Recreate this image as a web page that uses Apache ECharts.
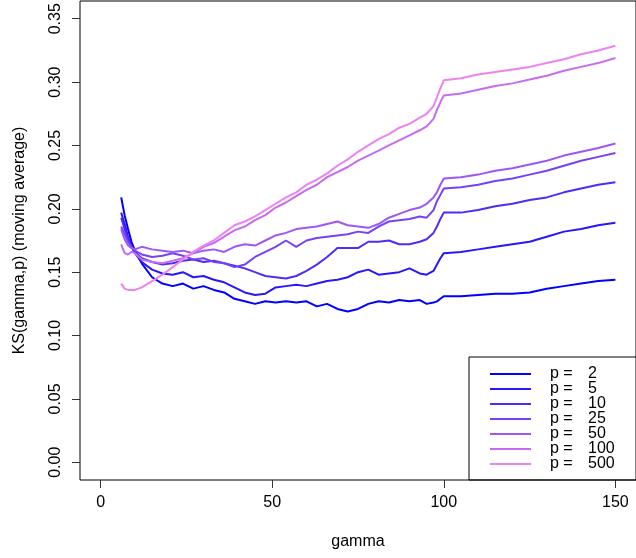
<!DOCTYPE html>
<html>
<head>
<meta charset="utf-8">
<script src="https://cdn.jsdelivr.net/npm/echarts@6/dist/echarts.min.js"></script>
<style>
  html, body { margin: 0; padding: 0; background: #fff; }
  #chart { width: 636px; height: 558px; }
</style>
</head>
<body>
<div id="chart"></div>
<script>
// gamma grid shared by every curve
var gamma = [6, 7, 8, 9, 10, 12, 15, 18, 21, 24, 27, 30, 33, 36, 39, 42, 45, 48, 51, 54,
  57, 60, 63, 66, 69, 72, 75, 78, 81, 84, 87, 90, 93, 95, 97, 98, 99, 100,
  105, 110, 115, 120, 125, 130, 135, 140, 145, 150];

var p2 = [0.209, 0.195, 0.184, 0.174, 0.167, 0.157, 0.146, 0.141, 0.139, 0.141, 0.137, 0.139, 0.136, 0.134, 0.129, 0.127, 0.125, 0.127, 0.126, 0.127,
  0.126, 0.127, 0.123, 0.125, 0.121, 0.119, 0.121, 0.125, 0.127, 0.126, 0.128, 0.127, 0.128, 0.125, 0.126, 0.127, 0.129, 0.131,
  0.131, 0.132, 0.133, 0.133, 0.134, 0.137, 0.139, 0.141, 0.143, 0.144];
var p5 = [0.197, 0.188, 0.178, 0.170, 0.165, 0.158, 0.152, 0.149, 0.148, 0.150, 0.146, 0.147, 0.144, 0.142, 0.138, 0.134, 0.132, 0.133, 0.138, 0.139,
  0.140, 0.139, 0.141, 0.143, 0.144, 0.146, 0.150, 0.152, 0.148, 0.149, 0.150, 0.153, 0.149, 0.148, 0.151, 0.156, 0.161, 0.165,
  0.166, 0.168, 0.170, 0.172, 0.174, 0.178, 0.182, 0.184, 0.187, 0.189];
var p10 = [0.193, 0.184, 0.176, 0.170, 0.166, 0.161, 0.158, 0.156, 0.157, 0.159, 0.160, 0.158, 0.159, 0.157, 0.155, 0.153, 0.150, 0.147, 0.146, 0.145,
  0.147, 0.151, 0.156, 0.162, 0.169, 0.169, 0.169, 0.174, 0.174, 0.175, 0.172, 0.172, 0.174, 0.176, 0.181, 0.186, 0.192, 0.197,
  0.197, 0.199, 0.202, 0.204, 0.207, 0.209, 0.213, 0.216, 0.219, 0.221];
var p25 = [0.186, 0.180, 0.174, 0.170, 0.167, 0.164, 0.162, 0.163, 0.165, 0.163, 0.160, 0.161, 0.158, 0.157, 0.154, 0.156, 0.162, 0.166, 0.170, 0.175,
  0.170, 0.175, 0.177, 0.178, 0.179, 0.180, 0.182, 0.181, 0.186, 0.190, 0.191, 0.192, 0.194, 0.193, 0.199, 0.206, 0.211, 0.216,
  0.217, 0.219, 0.222, 0.224, 0.227, 0.230, 0.234, 0.238, 0.241, 0.244];
var p50 = [0.184, 0.176, 0.171, 0.169, 0.168, 0.170, 0.168, 0.167, 0.166, 0.167, 0.165, 0.167, 0.168, 0.166, 0.170, 0.172, 0.171, 0.175, 0.179, 0.181,
  0.184, 0.185, 0.186, 0.188, 0.190, 0.187, 0.186, 0.185, 0.188, 0.193, 0.196, 0.199, 0.201, 0.204, 0.209, 0.213, 0.219, 0.224,
  0.225, 0.227, 0.230, 0.232, 0.235, 0.238, 0.242, 0.245, 0.248, 0.2515];
var p100 = [0.172, 0.165, 0.164, 0.166, 0.165, 0.160, 0.158, 0.157, 0.159, 0.161, 0.165, 0.170, 0.173, 0.178, 0.183, 0.186, 0.191, 0.195, 0.201, 0.205,
  0.210, 0.215, 0.219, 0.225, 0.229, 0.233, 0.238, 0.242, 0.246, 0.250, 0.254, 0.258, 0.262, 0.265, 0.271, 0.278, 0.284, 0.2895,
  0.291, 0.294, 0.297, 0.299, 0.302, 0.305, 0.309, 0.312, 0.315, 0.319];
var p500 = [0.141, 0.137, 0.136, 0.136, 0.136, 0.138, 0.143, 0.148, 0.154, 0.160, 0.166, 0.171, 0.175, 0.181, 0.187, 0.190, 0.194, 0.199, 0.204, 0.209,
  0.213, 0.219, 0.223, 0.228, 0.234, 0.239, 0.245, 0.250, 0.255, 0.259, 0.264, 0.267, 0.272, 0.275, 0.281, 0.288, 0.295, 0.3014,
  0.303, 0.306, 0.308, 0.310, 0.312, 0.315, 0.318, 0.322, 0.325, 0.3287];

var pValues = [2, 5, 10, 25, 50, 100, 500];
var curves = [p2, p5, p10, p25, p50, p100, p500];
var colors = ['#0000ff', '#2816fc', '#4f2bfa', '#7741f7', '#9f57f4', '#c66cf1', '#ee82ee'];

var xTicks = [0, 50, 100, 150];
var yTicks = [0, 0.05, 0.10, 0.15, 0.20, 0.25, 0.30, 0.35];

var font = '"Liberation Sans", Arial, Helvetica, sans-serif';

var series = [];
for (var i = 0; i < curves.length; i++) {
  var pts = [];
  for (var j = 0; j < gamma.length; j++) {
    pts.push([gamma[j], curves[i][j]]);
  }
  series.push({
    name: 'p = ' + pValues[i],
    type: 'line',
    data: pts,
    showSymbol: false,
    color: colors[i],
    lineStyle: { width: 2, color: colors[i] },
    z: 2
  });
}

var chart = echarts.init(document.getElementById('chart'));
var option = {
  animation: false,
  backgroundColor: '#fff',
  textStyle: { fontFamily: font },
  grid: {
    left: 80, top: 1, width: 562, height: 479,
    show: true, borderColor: '#000', borderWidth: 1, backgroundColor: 'transparent'
  },
  xAxis: {
    type: 'value',
    min: -6, max: 156,
    name: 'gamma',
    nameLocation: 'middle',
    nameGap: 54,
    nameTextStyle: { fontSize: 16, color: '#000', fontFamily: font },
    splitLine: { show: false },
    axisLine: { show: false, onZero: false },
    axisTick: { show: true, length: 8, customValues: xTicks, lineStyle: { color: '#333' } },
    axisLabel: {
      customValues: xTicks, fontSize: 16, color: '#000', margin: 15, fontFamily: font,
      formatter: function (v) { return String(v); }
    }
  },
  yAxis: {
    type: 'value',
    min: -0.014, max: 0.364,
    name: 'KS(gamma,p) (moving average)',
    nameLocation: 'middle',
    nameGap: 52,
    nameRotate: 90,
    nameTextStyle: { fontSize: 16, color: '#000', fontFamily: font },
    splitLine: { show: false },
    axisLine: { show: false, onZero: false },
    axisTick: { show: true, length: 8, customValues: yTicks, lineStyle: { color: '#333' } },
    axisLabel: {
      customValues: yTicks, fontSize: 16, color: '#000', margin: 16, rotate: 90, fontFamily: font,
      formatter: function (v) { return v.toFixed(2); }
    }
  },
  legend: {
    orient: 'vertical',
    left: 490, top: 366,
    padding: 0,
    itemWidth: 41, itemHeight: 2,
    itemGap: -1,
    icon: 'rect',
    textStyle: {
      fontSize: 16, lineHeight: 15, color: '#000', fontFamily: font,
      padding: [0, 0, 0, 14],
      rich: {
        a: { width: 38, fontSize: 16, lineHeight: 15, fontFamily: font },
        b: { fontSize: 16, lineHeight: 15, fontFamily: font }
      }
    },
    formatter: function (name) {
      return '{a|p =}{b|' + name.replace('p = ', '') + '}';
    },
    z: 5
  },
  graphic: [{
    type: 'rect',
    shape: { x: 469, y: 357, width: 200, height: 123 },
    style: { fill: 'none', stroke: '#000', lineWidth: 1 },
    z: 4
  }],
  series: series
};
chart.setOption(option);
</script>
</body>
</html>
